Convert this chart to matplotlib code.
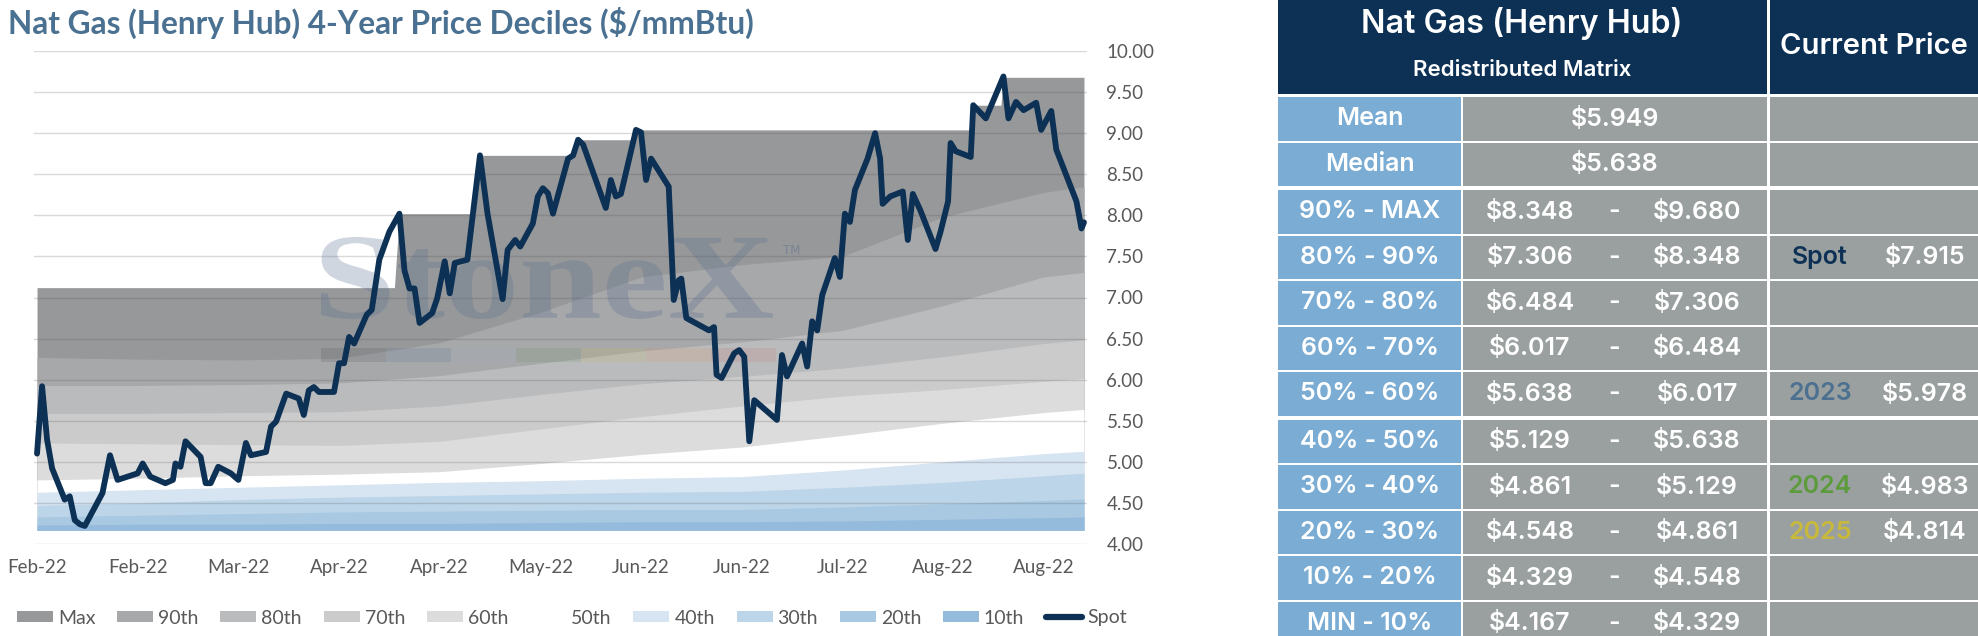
import matplotlib
matplotlib.use("Agg")
import matplotlib.pyplot as plt
from matplotlib.patches import Rectangle, Patch, PathPatch
from matplotlib.lines import Line2D
from matplotlib.textpath import TextPath
from matplotlib.font_manager import FontProperties
from matplotlib.transforms import Affine2D

plt.rcParams["text.parse_math"] = False
plt.rcParams["font.family"] = ["Lato", "DejaVu Sans"]

# ------------------------------------------------------------------#
# data (x = days since 5 Feb 2022)
spot_day = [0, 1, 2, 3, 5.5, 6.5, 7.5, 8.5, 9.5, 13, 14.5, 16, 20, 21, 22.5, 25.5,
            27, 27.5, 28.5, 29.5, 32.5, 33.5, 34.5, 36, 38.5, 40, 41.5, 42.5, 45.5,
            46.5, 47.5, 49.5, 52, 53, 54, 55, 56, 59, 60, 61, 62, 63, 65.5, 66.5,
            68, 70, 72, 73, 74, 75, 76, 78.5, 79.5, 81, 82, 83, 85.5, 88, 89.5,
            92.5, 93.5, 95, 96, 98.5, 99.5, 100.5, 101.5, 102.5, 105.5, 106.5,
            107.5, 108.5, 113, 114, 115, 116, 119, 120, 121, 122, 125.5, 126.5,
            127.5, 128, 129, 133.5, 134.5, 135, 136, 138.5, 139.5, 140.5, 141.5,
            142.5, 147, 148, 149, 152, 153, 154, 155, 156, 158.5, 159.5, 160.5,
            161.5, 162.5, 165, 166.5, 167.5, 168, 169.5, 172, 173, 174, 175.5,
            178.5, 179.5, 181, 181.5, 182.5, 185.5, 186, 188.5, 192, 193, 194.5,
            196, 198.5, 199.5, 201.5, 202.5, 206.5, 207.5, 208]
spot_val = [5.10, 5.92, 5.27, 4.92, 4.54, 4.58, 4.29, 4.24, 4.22, 4.62, 5.08, 4.78,
            4.86, 4.98, 4.82, 4.74, 4.78, 4.98, 4.94, 5.25, 5.06, 4.74, 4.74, 4.94,
            4.86, 4.78, 5.23, 5.08, 5.12, 5.43, 5.49, 5.83, 5.77, 5.57, 5.87, 5.91,
            5.85, 5.85, 6.20, 6.20, 6.52, 6.44, 6.79, 6.85, 7.46, 7.80, 8.02, 7.33,
            7.11, 7.11, 6.69, 6.81, 6.99, 7.44, 7.05, 7.42, 7.46, 8.73, 8.02, 6.98,
            7.58, 7.70, 7.62, 7.90, 8.23, 8.33, 8.27, 8.02, 8.69, 8.73, 8.92, 8.86,
            8.09, 8.43, 8.23, 8.26, 9.04, 9.01, 8.43, 8.69, 8.35, 6.97, 7.21, 7.23,
            6.75, 6.60, 6.64, 6.06, 6.02, 6.32, 6.36, 6.28, 5.25, 5.75, 5.51, 6.30,
            6.04, 6.44, 6.16, 6.71, 6.60, 7.03, 7.48, 7.25, 8.02, 7.92, 8.31, 8.69,
            9.00, 8.69, 8.14, 8.23, 8.29, 7.70, 8.26, 8.06, 7.59, 7.80, 8.17, 8.88,
            8.78, 8.71, 9.34, 9.18, 9.69, 9.18, 9.38, 9.28, 9.37, 9.04, 9.27, 8.80,
            8.17, 7.84, 7.915]

max_day = [0, 71, 72, 87, 88, 106, 107.5, 118, 119, 185.5, 186, 191.5, 192, 208]
max_val = [7.12, 7.12, 8.02, 8.02, 8.73, 8.73, 8.92, 8.92, 9.04, 9.04, 9.34, 9.34,
           9.68, 9.68]

band_day = [0, 20, 40, 60, 80, 100, 120, 140, 160, 180, 200, 208]
p90 = [6.27, 6.25, 6.24, 6.26, 6.45, 6.82, 7.25, 7.40, 7.50, 7.98, 8.28, 8.348]
p80 = [5.93, 5.93, 5.94, 5.96, 6.05, 6.20, 6.35, 6.46, 6.60, 6.90, 7.25, 7.306]
p70 = [5.59, 5.59, 5.60, 5.61, 5.68, 5.82, 5.95, 6.04, 6.14, 6.28, 6.44, 6.484]
p60 = [5.23, 5.22, 5.21, 5.20, 5.25, 5.40, 5.55, 5.68, 5.80, 5.88, 5.98, 6.017]
p50 = [4.78, 4.80, 4.83, 4.85, 4.88, 4.98, 5.09, 5.18, 5.32, 5.47, 5.60, 5.638]
p40 = [4.63, 4.66, 4.69, 4.72, 4.75, 4.77, 4.80, 4.82, 4.90, 5.00, 5.10, 5.129]
p30 = [4.47, 4.50, 4.54, 4.57, 4.59, 4.61, 4.63, 4.64, 4.69, 4.75, 4.83, 4.861]
p20 = [4.33, 4.35, 4.37, 4.39, 4.40, 4.41, 4.42, 4.42, 4.45, 4.49, 4.53, 4.548]
p10 = [4.23, 4.24, 4.24, 4.25, 4.25, 4.26, 4.27, 4.27, 4.28, 4.30, 4.32, 4.329]

tick_day = [0, 20, 40, 60, 80, 100, 120, 140, 160, 180, 200]
tick_lbl = ["Feb-22", "Feb-22", "Mar-22", "Apr-22", "Apr-22", "May-22", "Jun-22",
            "Jun-22", "Jul-22", "Aug-22", "Aug-22"]

# table
row_lbl = ["Mean", "Median", "90% - MAX", "80% - 90%", "70% - 80%", "60% - 70%",
           "50% - 60%", "40% - 50%", "30% - 40%", "20% - 30%", "10% - 20%", "MIN - 10%"]
row_lo = [5.949, 5.638, 8.348, 7.306, 6.484, 6.017, 5.638, 5.129, 4.861, 4.548, 4.329, 4.167]
row_hi = [None, None, 9.680, 8.348, 7.306, 6.484, 6.017, 5.638, 5.129, 4.861, 4.548, 4.329]
cur_tag = ["", "", "", "Spot", "", "", "2023", "", "2024", "2025", "", ""]
cur_val = [None, None, None, 7.915, None, None, 5.978, None, 4.983, 4.814, None, None]

# ------------------------------------------------------------------#
NAVY = "#0C3155"
TXT = "#595959"
TAG_COLORS = {"Spot": NAVY, "2023": "#4B7090", "2024": "#5B9B3C", "2025": "#C9B93A"}
BAND_COLORS = {
    "Max": "#97989A", "90th": "#A7A8AA", "80th": "#BABBBD", "70th": "#CBCBCC",
    "60th": "#DCDCDC", "50th": "#FFFFFF", "40th": "#D7E4F1", "30th": "#BCD5E8",
    "20th": "#A9C8E2", "10th": "#94BADC",
}

W, H = 1978, 636
fig = plt.figure(figsize=(W / 100, H / 100), dpi=100)


def fx(px):
    return px / W


def fy(py):  # top-based pixel row -> figure fraction
    return 1 - py / H


ax = fig.add_axes([fx(34), fy(544), fx(1087 - 34), (544 - 51) / H])
min_price = row_lo[-1]

ax.fill_between(max_day, min_price, max_val, color=BAND_COLORS["Max"], lw=0, zorder=1)
for name, vals in [("90th", p90), ("80th", p80), ("70th", p70), ("60th", p60),
                   ("50th", p50), ("40th", p40), ("30th", p30), ("20th", p20),
                   ("10th", p10)]:
    ax.fill_between(band_day, min_price, vals, color=BAND_COLORS[name], lw=0, zorder=1)

ax.plot(spot_day, spot_val, color=NAVY, lw=4.2, solid_joinstyle="round",
        solid_capstyle="round", zorder=5)

ax.set_xlim(-0.6, 208.6)
ax.set_ylim(4, 10)
ax.set_yticks([4 + 0.5 * k for k in range(13)])
ax.yaxis.set_major_formatter(matplotlib.ticker.FormatStrFormatter("%.2f"))
ax.yaxis.tick_right()
ax.set_xticks(tick_day)
ax.set_xticklabels(tick_lbl)
ax.tick_params(axis="both", length=0, labelsize=13.5, labelcolor=TXT)
ax.tick_params(axis="y", pad=14)
ax.tick_params(axis="x", pad=11)
ax.set_axisbelow(False)
ax.yaxis.grid(True, color="#525252", alpha=0.22, lw=1.0)
for s in ax.spines.values():
    s.set_visible(False)

# StoneX watermark
tp = TextPath((0, 0), "StoneX", size=100,
              prop=FontProperties(family="Liberation Serif", weight="bold"))
bb = tp.get_extents()
tf = Affine2D().translate(-bb.x0, -bb.y0).scale(452 / bb.width, 82 / bb.height) \
    .translate(321, H - 319)
ax.add_patch(PathPatch(tp, transform=tf, facecolor="#556D8F", edgecolor="none",
                       alpha=0.28, zorder=3, clip_on=False))
fig.text(fx(783), fy(250), "TM", fontsize=8.5, color="#556D8F", alpha=0.45,
         ha="left", va="center", family="DejaVu Sans")
bar_colors = ["#3E4349", "#4E6C8E", "#9DB0C2", "#5E8A58", "#C7B84B", "#E3905E", "#C76A6A"]
for k, c in enumerate(bar_colors):
    ax.add_patch(Rectangle((321 + 65 * k, H - 362), 65, 14, transform=None,
                           facecolor=c, edgecolor="none", alpha=0.16, zorder=3))

# title
fig.text(fx(8), fy(23), "Nat Gas (Henry Hub) 4-Year Price Deciles ($/mmBtu)",
         fontsize=22.8, weight="bold", color="#4A7191", ha="left", va="center")

# legend
handles = [Patch(facecolor=BAND_COLORS[k], edgecolor="none", label=k)
           for k in ["Max", "90th", "80th", "70th", "60th", "50th", "40th",
                     "30th", "20th", "10th"]]
handles.append(Line2D([], [], color=NAVY, lw=4.5, solid_capstyle="round", label="Spot"))
fig.legend(handles=handles, loc="center left", bbox_to_anchor=(fx(17), fy(618)), ncol=11,
           frameon=False, fontsize=14, handlelength=1.85, handleheight=0.55,
           handletextpad=0.25, columnspacing=1.13, labelcolor=TXT, borderpad=0,
           borderaxespad=0)

# ------------------------------------------------------------------#
# decile table
ta = fig.add_axes([fx(1278), 0, fx(W - 1278), 1])
ta.set_xlim(1278, W)
ta.set_ylim(H, 0)
ta.axis("off")
TFONT = ["Inter", "Lato", "DejaVu Sans"]
BLUE_CELL = "#7AACD4"
GREY_CELL = "#99A09F"

ta.add_patch(Rectangle((1278, 0), 1767 - 1278, 94, color=NAVY, lw=0))
ta.add_patch(Rectangle((1770, 0), W - 1770, 94, color=NAVY, lw=0))
ta.text(1522, 23, "Nat Gas (Henry Hub)", color="white", fontsize=23.2, weight="semibold",
        ha="center", va="center", family=TFONT)
ta.text(1522, 70, "Redistributed Matrix", color="white", fontsize=16, weight="semibold",
        ha="center", va="center", family=TFONT)
ta.text(1874, 47, "Current Price", color="white", fontsize=21, weight="semibold",
        ha="center", va="center", family=TFONT)

for i, lbl in enumerate(row_lbl):
    top = 97 + i * 45.5 + (2 if i >= 2 else 0) + (2 if i >= 7 else 0)
    h = 43.5
    cy = top + h / 2
    ta.add_patch(Rectangle((1278, top), 183, h, color=BLUE_CELL, lw=0))
    ta.add_patch(Rectangle((1463, top), 304, h, color=GREY_CELL, lw=0))
    ta.add_patch(Rectangle((1770, top), W - 1770, h, color=GREY_CELL, lw=0))
    kw = dict(fontsize=18, weight="semibold", va="center", ha="center", family=TFONT)
    ta.text(1370, cy, lbl, color="white", **kw)
    if row_hi[i] is None:
        ta.text(1615, cy, f"${row_lo[i]:.3f}", color="white", **kw)
    else:
        ta.text(1530, cy, f"${row_lo[i]:.3f}", color="white", **kw)
        ta.text(1614, cy, "-", color="white", **kw)
        ta.text(1697, cy, f"${row_hi[i]:.3f}", color="white", **kw)
    if cur_tag[i]:
        ta.text(1820, cy, cur_tag[i], color=TAG_COLORS[cur_tag[i]], **kw)
        ta.text(1925, cy, f"${cur_val[i]:.3f}", color="white", **kw)

fig.savefig("out.png", dpi=100)
